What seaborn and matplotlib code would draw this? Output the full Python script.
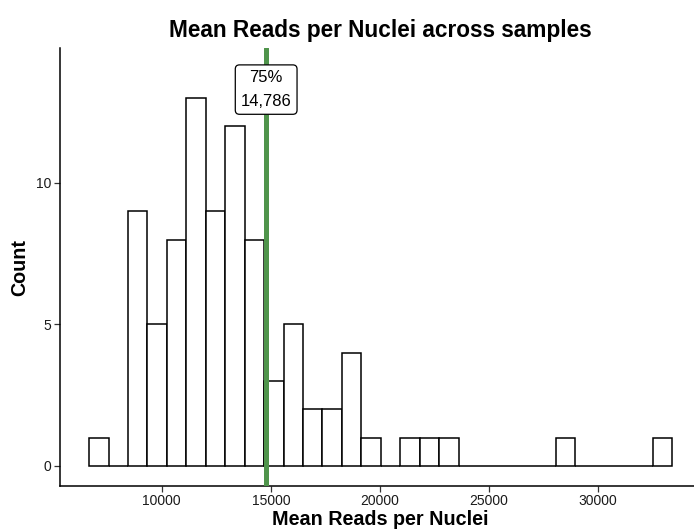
import numpy as np
import pandas as pd
import matplotlib
matplotlib.use("Agg")
import matplotlib.pyplot as plt
import seaborn as sns

# Histogram of mean reads per nucleus: 30 equal-width bins
bin_start = 6673
bin_width = 891
bin_counts = [1, 0, 9, 5, 8, 13, 9, 12, 8, 3,
              5, 2, 2, 4, 1, 0, 1, 1, 1, 0,
              0, 0, 0, 0, 1, 0, 0, 0, 0, 1]
q75_label = "75%"
q75_value = 14786
x_ticks = [10000, 15000, 20000, 25000, 30000]
y_ticks = [0, 5, 10]

edges = [bin_start + bin_width * i for i in range(len(bin_counts) + 1)]
df = pd.DataFrame({
    "center": [(a + b) / 2 for a, b in zip(edges[:-1], edges[1:])],
    "count": bin_counts,
})

sns.set_theme(style="white")
plt.rcParams["font.family"] = ["Liberation Sans", "DejaVu Sans"]
plt.rcParams["text.color"] = "black"
plt.rcParams["axes.labelcolor"] = "black"

fig = plt.figure(figsize=(6.94, 5.29), dpi=100)
W, H = 694, 529
ax_left, ax_right, ax_top, ax_bottom = 60, 701.5, 48, 486
ax = fig.add_axes([ax_left / W, 1 - ax_bottom / H,
                   (ax_right - ax_left) / W, (ax_bottom - ax_top) / H])

sns.histplot(data=df, x="center", weights="count", bins=edges,
             color="white", edgecolor="black", linewidth=1.1,
             alpha=1, ax=ax)

ax.axvline(q75_value, color="#4f944b", linewidth=3.6, zorder=5)
ax.text(q75_value, 13.3, f"{q75_label}\n{q75_value:,}",
        ha="center", va="center", fontsize=12, linespacing=1.7,
        color="black", zorder=6,
        bbox=dict(boxstyle="round,pad=0.33,rounding_size=0.25",
                  facecolor="white", edgecolor="black", linewidth=0.9))

span = edges[-1] - edges[0]
ax.set_xlim(edges[0] - 0.05 * span, edges[-1] + 0.05 * span)
ax.set_ylim(-0.71, 14.77)
ax.set_xticks(x_ticks)
ax.set_xticklabels([str(t) for t in x_ticks])
ax.set_yticks(y_ticks)

for side in ("top", "right"):
    ax.spines[side].set_visible(False)
for side in ("left", "bottom"):
    ax.spines[side].set_color("black")
    ax.spines[side].set_linewidth(1.1)
ax.tick_params(axis="both", which="major", length=4, width=0.9,
               color="#333333", labelsize=10, labelcolor="#1a1a1a",
               bottom=True, left=True, pad=2)

ax.set_xlabel("Mean Reads per Nuclei", fontsize=14.2, fontweight="bold",
              color="black", labelpad=1)
ax.set_ylabel("Count", fontsize=14.2, fontweight="bold", color="black",
              labelpad=5)
ax.set_title("Mean Reads per Nuclei across samples", fontsize=16.3,
             fontweight="bold", color="black", pad=8)

fig.savefig("out.png", dpi=100, facecolor="white")
